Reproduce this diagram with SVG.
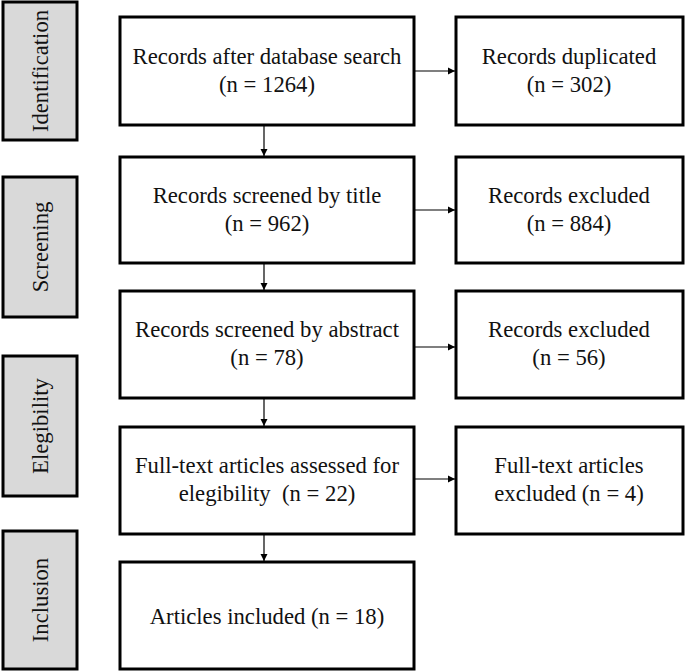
<svg xmlns="http://www.w3.org/2000/svg" width="685" height="672" viewBox="0 0 685 672">
<style>
.stage{fill:#d9d9d9;stroke:#000;stroke-width:3}
.box{fill:#fff;stroke:#000;stroke-width:3}
text{font-family:'Liberation Serif','Times New Roman',serif;font-size:22.7px;fill:#111;text-anchor:middle}
.c{stroke:#000;stroke-width:1.2;fill:none;marker-end:url(#ah)}
</style>
<defs>
<marker id="ah" markerWidth="8" markerHeight="8" refX="7" refY="4" orient="auto" markerUnits="userSpaceOnUse">
<path d="M0,0.5 L7,4 L0,7.5 Z" fill="#000"/>
</marker>
</defs>
<rect width="685" height="672" fill="#fff"/>
<g id="stage-identification"><rect class="stage" x="3" y="2" width="74" height="138"/><text transform="translate(48,71) rotate(-90)">Identification</text></g>
<g id="stage-screening"><rect class="stage" x="3" y="177" width="74" height="140"/><text transform="translate(48,247) rotate(-90)">Screening</text></g>
<g id="stage-elegibility"><rect class="stage" x="3" y="356" width="74" height="140"/><text transform="translate(48,426) rotate(-90)">Elegibility</text></g>
<g id="stage-inclusion"><rect class="stage" x="3" y="531" width="74" height="138"/><text transform="translate(48,600) rotate(-90)">Inclusion</text></g>

<g id="n1"><rect class="box" x="120" y="17" width="294" height="108"/><text x="267" y="64">Records after database search</text><text x="267" y="92">(n = 1264)</text></g>
<g id="n1x"><rect class="box" x="456" y="17" width="227" height="108"/><text x="569" y="64">Records duplicated</text><text x="569" y="92">(n = 302)</text></g>
<g id="n2"><rect class="box" x="120" y="157" width="294" height="106"/><text x="267" y="203">Records screened by title</text><text x="267" y="231">(n = 962)</text></g>
<g id="n2x"><rect class="box" x="456" y="157" width="227" height="106"/><text x="569" y="203">Records excluded</text><text x="569" y="231">(n = 884)</text></g>
<g id="n3"><rect class="box" x="120" y="291" width="294" height="107"/><text x="267" y="337">Records screened by abstract</text><text x="267" y="365">(n = 78)</text></g>
<g id="n3x"><rect class="box" x="456" y="291" width="227" height="107"/><text x="569" y="337">Records excluded</text><text x="569" y="365">(n = 56)</text></g>
<g id="n4"><rect class="box" x="120" y="427" width="294" height="107"/><text x="267" y="473">Full-text articles assessed for</text><text x="267" y="501" xml:space="preserve">elegibility  (n = 22)</text></g>
<g id="n4x"><rect class="box" x="456" y="427" width="227" height="107"/><text x="569" y="473">Full-text articles</text><text x="569" y="501">excluded (n = 4)</text></g>
<g id="n5"><rect class="box" x="120" y="562" width="294" height="107"/><text x="267" y="624">Articles included (n = 18)</text></g>

<g id="connectors">
<line class="c" x1="264" y1="126" x2="264" y2="156"/>
<line class="c" x1="264" y1="264" x2="264" y2="290"/>
<line class="c" x1="264" y1="399" x2="264" y2="426"/>
<line class="c" x1="264" y1="535" x2="264" y2="561"/>
<line class="c" x1="415" y1="71" x2="455" y2="71"/>
<line class="c" x1="415" y1="210" x2="455" y2="210"/>
<line class="c" x1="415" y1="347" x2="455" y2="347"/>
<line class="c" x1="415" y1="479" x2="455" y2="479"/>
</g>
</svg>
